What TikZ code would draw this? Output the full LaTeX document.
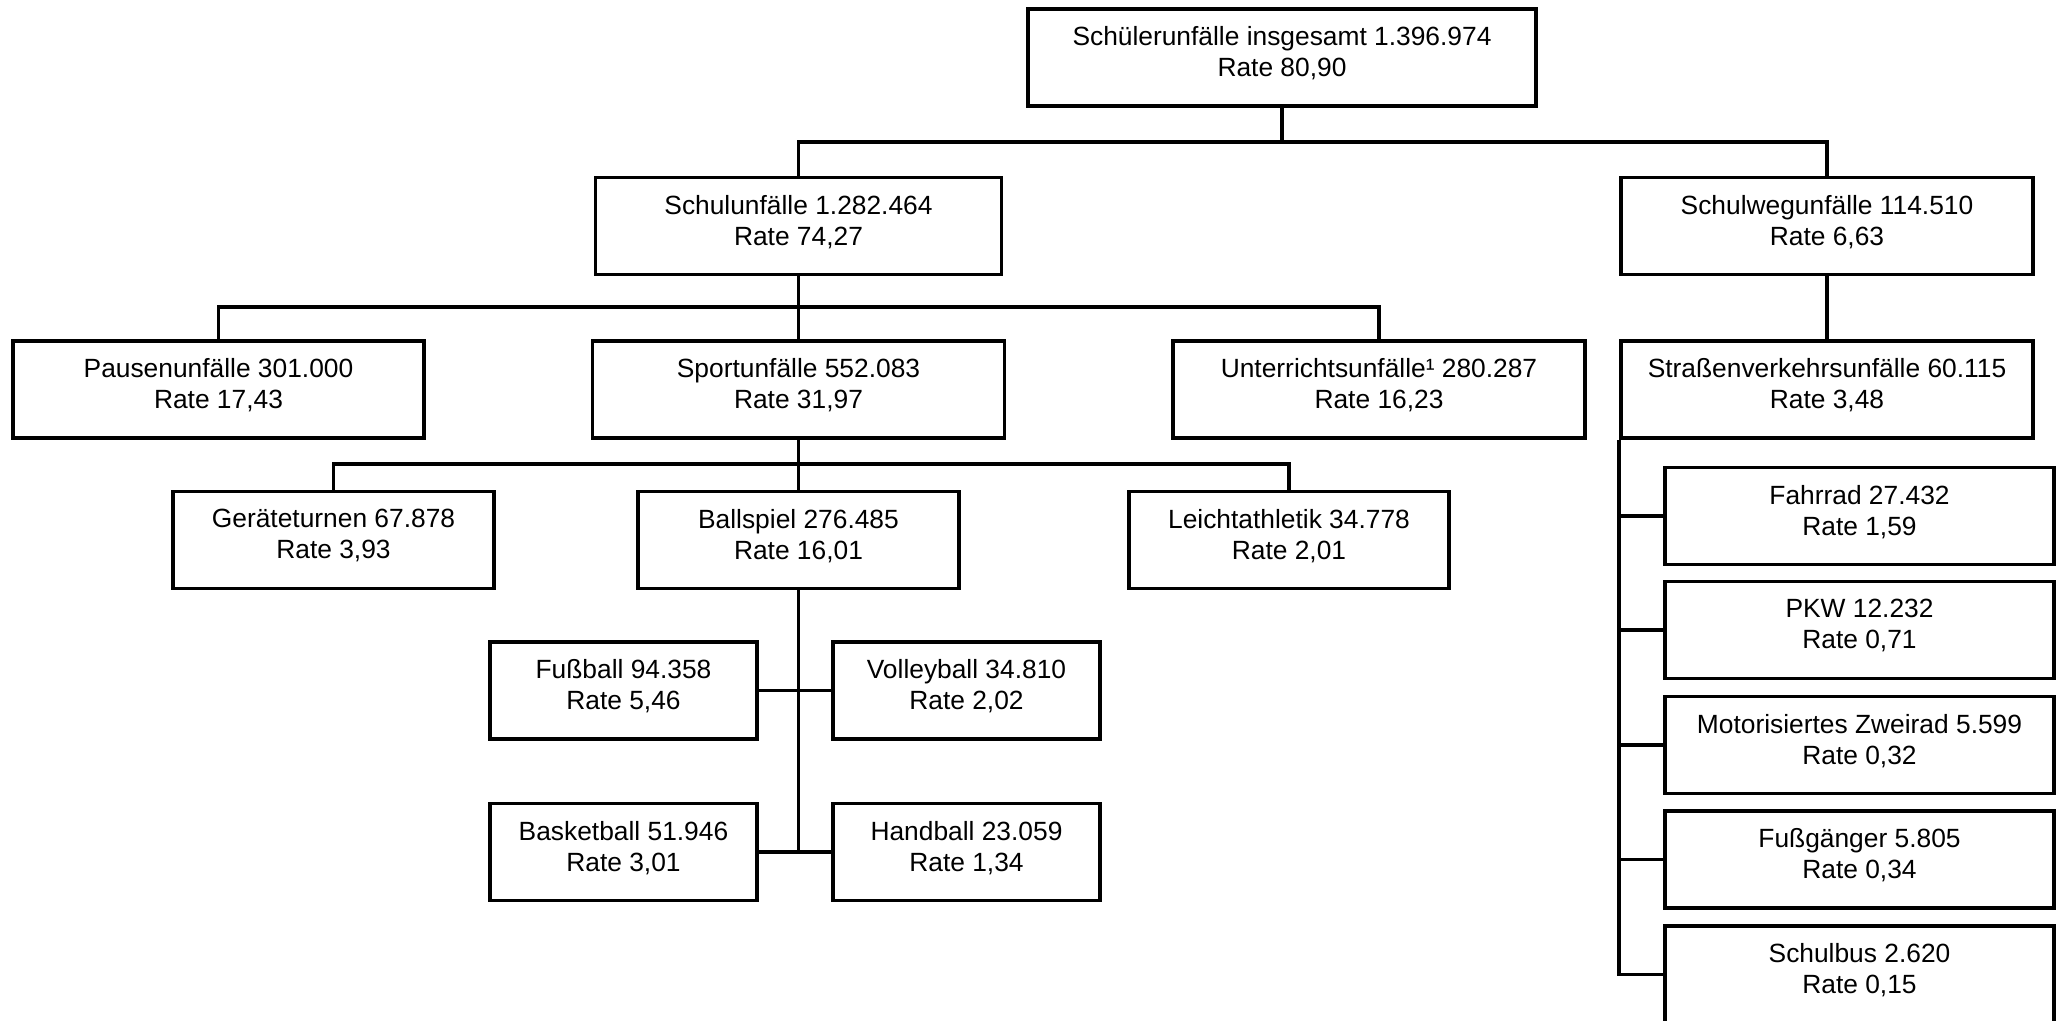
\documentclass[tikz,border=0pt]{standalone}
\usepackage{fontspec}
\setmainfont{Liberation Sans}

\tikzset{
    unfall/.style={draw, line width=2.2pt, inner sep=0pt, align=center, text depth=0.24cm,
        minimum height=1.94cm, font=\fontsize{15pt}{17.6pt}\selectfont},
    verbinder/.style={line width=1.9pt}
}

\begin{document}
\begin{tikzpicture}[x=0.02cm, y=-0.02cm]
        \useasboundingbox (0, 0) rectangle (2060, 1021);
        % oberste Ebene
        \node[unfall, minimum width=10.16cm] (gesamt) at (1282, 57.5) {Schülerunfälle insgesamt 1.396.974\\Rate 80,90};
        \node[unfall, minimum width=8.12cm] (schule) at (798.5, 226) {Schulunfälle 1.282.464\\Rate 74,27};
        \node[unfall, minimum width=8.24cm] (schulweg) at (1827, 226) {Schulwegunfälle 114.510\\Rate 6,63};
        % zweite Ebene
        \node[unfall, minimum width=8.22cm] (pause) at (218.5, 389.5) {Pausenunfälle 301.000\\Rate 17,43};
        \node[unfall, minimum width=8.24cm] (sport) at (798.5, 389.5) {Sportunfälle 552.083\\Rate 31,97};
        \node[unfall, minimum width=8.24cm] (unterricht) at (1379, 389.5) {Unterrichtsunfälle¹ 280.287\\Rate 16,23};
        \node[unfall, minimum width=8.24cm] (strasse) at (1827, 389.5) {Straßenverkehrsunfälle 60.115\\Rate 3,48};
        % Sportarten
        \node[unfall, minimum width=6.42cm] (geraet) at (333.5, 540) {Geräteturnen 67.878\\Rate 3,93};
        \node[unfall, minimum width=6.42cm] (ballspiel) at (798.5, 540) {Ballspiel 276.485\\Rate 16,01};
        \node[unfall, minimum width=6.40cm] (leicht) at (1289, 540) {Leichtathletik 34.778\\Rate 2,01};
        \node[unfall, minimum width=5.34cm] (fussball) at (623.5, 690.5) {Fußball 94.358\\Rate 5,46};
        \node[unfall, minimum width=5.34cm] (volleyball) at (966.5, 690.5) {Volleyball 34.810\\Rate 2,02};
        \node[unfall, minimum width=5.34cm] (basketball) at (623.5, 852) {Basketball 51.946\\Rate 3,01};
        \node[unfall, minimum width=5.34cm] (handball) at (966.5, 852) {Handball 23.059\\Rate 1,34};
        % Verkehrsmittel
        \node[unfall, minimum width=7.78cm] (fahrrad) at (1859.5, 516) {Fahrrad 27.432\\Rate 1,59};
        \node[unfall, minimum width=7.78cm] (pkw) at (1859.5, 630) {PKW 12.232\\Rate 0,71};
        \node[unfall, minimum width=7.78cm] (zweirad) at (1859.5, 745) {Motorisiertes Zweirad 5.599\\Rate 0,32};
        \node[unfall, minimum width=7.78cm] (fussgaenger) at (1859.5, 859.5) {Fußgänger 5.805\\Rate 0,34};
        \node[unfall, minimum width=7.78cm] (schulbus) at (1859.5, 974.5) {Schulbus 2.620\\Rate 0,15};
        \coordinate (k1) at (1282, 142);
        \coordinate (k2) at (798.5, 307);
        \coordinate (k3) at (798.5, 464);
        % Verbindungen
        \draw[verbinder] (gesamt.south) -- (k1);
        \draw[verbinder] (schule.north) |- (k1) -| (schulweg.north);
        \draw[verbinder] (schule.south) -- (sport.north);
        \draw[verbinder] (pause.north) |- (k2) -| (unterricht.north);
        \draw[verbinder] (schulweg.south) -- (strasse.north);
        \draw[verbinder] (sport.south) -- (ballspiel.north);
        \draw[verbinder] (geraet.north) |- (k3) -| (leicht.north);
        \draw[verbinder] (ballspiel.south) -- (ballspiel.south |- basketball.east);
        \draw[verbinder] (fussball.east) -- (volleyball.west);
        \draw[verbinder] (basketball.east) -- (handball.west);
        \draw[verbinder] (strasse.south west) -- (strasse.south west |- schulbus.west) -- (schulbus.west);
        \draw[verbinder] (strasse.south west |- fahrrad.west) -- (fahrrad.west);
        \draw[verbinder] (strasse.south west |- pkw.west) -- (pkw.west);
        \draw[verbinder] (strasse.south west |- zweirad.west) -- (zweirad.west);
        \draw[verbinder] (strasse.south west |- fussgaenger.west) -- (fussgaenger.west);
    \end{tikzpicture}
\end{document}
